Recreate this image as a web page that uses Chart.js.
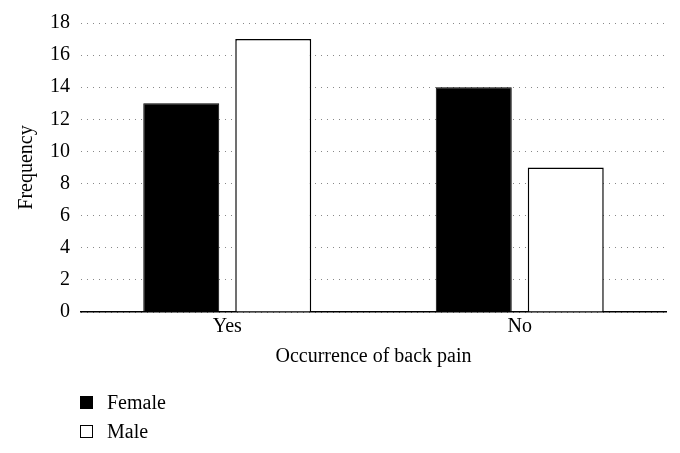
<!DOCTYPE html>
<html>
<head>
<meta charset="utf-8">
<script src="https://cdn.jsdelivr.net/npm/chart.js@4/dist/chart.umd.min.js"></script>
<style>
  html, body { margin: 0; padding: 0; background: #fff; }
  #wrap { position: relative; width: 680px; height: 453px; }
  #legend { position: absolute; left: 80px; top: 388px; font-family: "Liberation Serif", "DejaVu Serif", serif; font-size: 20px; color: #000; }
  .item { display: flex; align-items: center; height: 29px; }
  .box { width: 11px; height: 11px; border: 1.5px solid #000; margin-right: 14px; box-sizing: content-box; }
</style>
</head>
<body>
<div id="wrap">
  <canvas id="c" width="680" height="453"></canvas>
  <div id="legend"></div>
</div>
<script>
const categories = ["Yes", "No"];
const seriesNames = ["Female", "Male"];
const femaleValues = [13, 14];
const maleValues = [17, 9];
const yTicks = [0, 2, 4, 6, 8, 10, 12, 14, 16, 18];
const xTitle = "Occurrence of back pain";
const yTitle = "Frequency";

const FONT = "'Liberation Serif', 'DejaVu Serif', serif";
const FS = 20;
const fills = ["#000000", "#ffffff"];

const chart = new Chart(document.getElementById("c"), {
  type: "bar",
  data: {
    labels: categories,
    datasets: [
      { label: seriesNames[0], data: femaleValues, backgroundColor: fills[0], borderColor: "#000", borderWidth: 1 },
      { label: seriesNames[1], data: maleValues, backgroundColor: fills[1], borderColor: "#000", borderWidth: 1.5 }
    ]
  },
  options: {
    responsive: false,
    animation: false,
    devicePixelRatio: 1,
    layout: { padding: { top: 20, right: 14, bottom: 0, left: 0 } },
    datasets: { bar: { categoryPercentage: 0.629, barPercentage: 0.826 } },
    plugins: { legend: { display: false }, tooltip: { enabled: false } },
    scales: {
      x: {
        grid: { display: false, drawTicks: false },
        border: { display: true, color: "#000", width: 1.5 },
        ticks: { color: "#000", font: { family: FONT, size: FS }, padding: 3 },
        title: { display: true, text: xTitle, color: "#000", font: { family: FONT, size: FS }, padding: { top: 0, bottom: 84 } },
        afterFit: (s) => { s.height = 141; }
      },
      y: {
        min: 0, max: 18,
        afterBuildTicks: (s) => { s.ticks = yTicks.map(v => ({ value: v })); },
        grid: { color: "#888", lineWidth: 1, drawTicks: false },
        border: { display: false, dash: [1, 5] },
        ticks: { color: "#000", font: { family: FONT, size: FS }, padding: 11 },
        title: { display: true, text: yTitle, color: "#000", font: { family: FONT, size: FS }, padding: { top: 15, bottom: 0 } },
        afterFit: (s) => { s.width = 81; }
      }
    }
  }
});

// legend built from the datasets
const legend = document.getElementById("legend");
chart.data.datasets.forEach((ds) => {
  const item = document.createElement("div");
  item.className = "item";
  const box = document.createElement("span");
  box.className = "box";
  box.style.background = ds.backgroundColor;
  const txt = document.createElement("span");
  txt.textContent = ds.label;
  item.appendChild(box);
  item.appendChild(txt);
  legend.appendChild(item);
});
</script>
</body>
</html>
